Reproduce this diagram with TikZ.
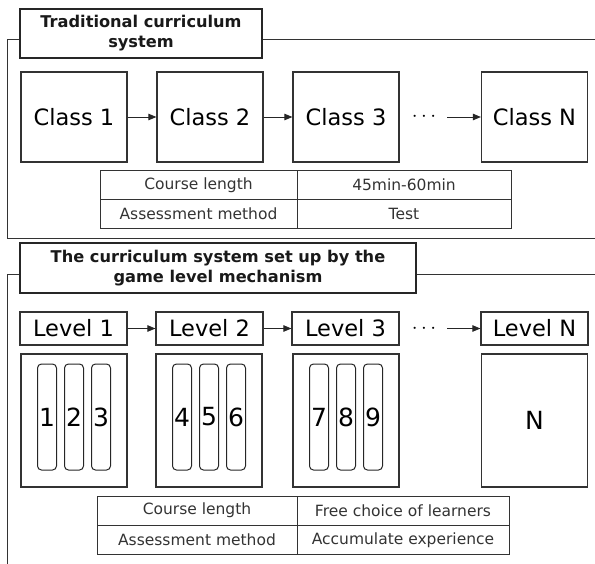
\documentclass[tikz,border=0pt]{standalone}
\usepackage{fontspec}
\setmainfont{DejaVu Sans}
\usetikzlibrary{arrows.meta}

\tikzset{
  plainbox/.style={draw=black!80, line width=1.2pt, inner sep=0pt},
  classbox/.style={plainbox, minimum width=106pt, minimum height=90pt, font=\fontsize{22.5}{26}\selectfont},
  levelbox/.style={plainbox, minimum width=107pt, minimum height=33pt, font=\fontsize{22.5}{26}\selectfont},
  unitbox/.style={plainbox, minimum width=106pt, minimum height=133pt, font=\fontsize{25}{30}\selectfont},
  pill/.style={draw=black!85, line width=1pt, rounded corners=4pt, minimum width=19pt, minimum height=106pt, inner sep=0pt, font=\fontsize{25}{30}\selectfont},
  cell/.style={draw=black!80, line width=0.9pt, minimum height=29pt, inner sep=0pt, text=black!80, font=\fontsize{15.5}{18}\selectfont},
  titlebox/.style={draw=black!85, line width=1.2pt, fill=white, align=center, inner sep=0pt, text=black!90, font=\bfseries\fontsize{16.2}{20}\selectfont},
  arr/.style={-{Triangle[length=8pt,width=6.5pt]}, line width=0.9pt, black!85},
  frame/.style={line width=1pt, black!80},
  dots/.style={font=\fontsize{20}{24}\selectfont},
}

\begin{document}
\begin{tikzpicture}[x=1pt, y=-1pt]
  \useasboundingbox (0,0) rectangle (595,563);
  % Row positions
  \def\classY{117}
  \def\levelY{328.5}

  % Outer frames
  \draw[frame] (600,39) -| (7,238) -- (600,238);
  \draw[frame] (600,274) -| (7,570);

  % Traditional curriculum system
  \node[titlebox, minimum width=242pt, minimum height=49pt] (title1) at (141,33.5) {Traditional curriculum\\system};
  \node[classbox] (class1) at (74,\classY) {Class 1};
  \node[classbox] (class2) at (210,\classY) {Class 2};
  \node[classbox] (class3) at (346,\classY) {Class 3};
  \node[classbox] (classN) at (534.5,\classY) {Class N};
  \node[dots] (dots1) at (424,\classY) {$\cdots$};
  \coordinate (from1) at (447,\classY);
  \draw[arr] (class1) -- (class2);
  \draw[arr] (class2) -- (class3);
  \draw[arr] (from1) -- (classN);

  % Table of the traditional system
  \node[cell, minimum width=197pt] (lenA) at (198.5,185) {Course length};
  \node[cell, minimum width=214pt] (lenB) at (404,185) {45min-60min};
  \node[cell, minimum width=197pt] (evalA) at (198.5,214) {Assessment method};
  \node[cell, minimum width=214pt] (evalB) at (404,214) {Test};

  % Game level mechanism
  \node[titlebox, minimum width=396pt, minimum height=50pt] (title2) at (218,268) {The curriculum system set up by the\\game level mechanism};
  \node[levelbox] (level1) at (73.5,\levelY) {Level 1};
  \node[levelbox] (level2) at (209.5,\levelY) {Level 2};
  \node[levelbox] (level3) at (345.5,\levelY) {Level 3};
  \node[levelbox] (levelN) at (534.5,\levelY) {Level N};
  \node[dots] (dots2) at (424,\levelY) {$\cdots$};
  \coordinate (from2) at (447,\levelY);
  \draw[arr] (level1) -- (level2);
  \draw[arr] (level2) -- (level3);
  \draw[arr] (from2) -- (levelN);

  % Units with their lessons
  \foreach \u/\cx in {1/74, 2/209, 3/346} {
    \node[unitbox] (unit\u) at (\cx,420.5) {};
    \foreach \k/\dx in {1/-27, 2/0, 3/27} {
      \pgfmathtruncatemacro\num{3*(\u-1)+\k}
      \node[pill] (pill\num) at (\cx+\dx,417) {\num};
    }
  }
  \node[unitbox] (unitN) at (534.5,420.5) {N};

  % Table of the level system
  \node[cell, minimum width=200pt] (lenC) at (197,510.5) {Course length};
  \node[cell, minimum width=212pt] (lenD) at (403,510.5) {Free choice of learners};
  \node[cell, minimum width=200pt] (evalC) at (197,540) {Assessment method};
  \node[cell, minimum width=212pt] (evalD) at (403,540) {Accumulate experience};
\end{tikzpicture}
\end{document}
